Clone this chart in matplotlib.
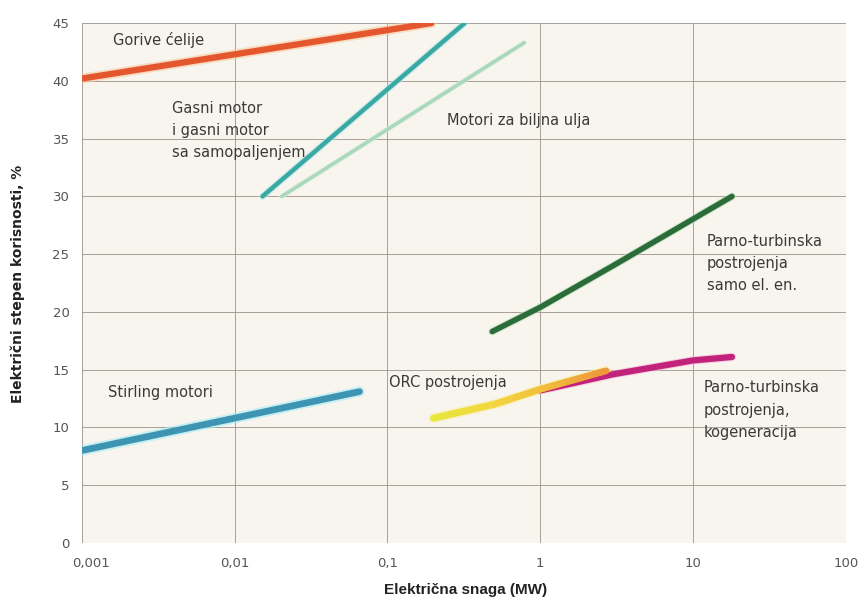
import numpy as np
import matplotlib
matplotlib.use("Agg")
import matplotlib.pyplot as plt
from matplotlib.collections import LineCollection
from matplotlib.colors import LinearSegmentedColormap
from matplotlib.transforms import ScaledTranslation

# ---- data (MW, %) ----
gorive_x = [0.001, 0.194]
gorive_y = [40.2, 45.0]

gasni_x = [0.0152, 0.32]
gasni_y = [30.0, 45.0]

biljna_x = [0.0203, 0.785]
biljna_y = [30.0, 43.3]

parno_el_x = [0.485, 1.0, 3.0, 18.0]
parno_el_y = [18.3, 20.4, 24.0, 30.0]

orc_x = [0.2, 0.5, 1.0, 2.7]
orc_y = [10.8, 12.0, 13.3, 14.9]

kogen_x = [1.0, 3.0, 10.0, 18.0]
kogen_y = [13.2, 14.6, 15.8, 16.1]

stirling_x = [0.001, 0.0656]
stirling_y = [8.0, 13.1]

x_ticks = [0.001, 0.01, 0.1, 1, 10, 100]
x_ticklabels = ["0,001", "0,01", "0,1", "1", "10", "100"]
y_ticks = [0, 5, 10, 15, 20, 25, 30, 35, 40, 45]

plt.rcParams['font.family'] = ['DejaVu Sans']

fig = plt.figure(figsize=(8.63, 6.08), dpi=100)
ax = fig.add_axes([0.095, 0.107, 0.885, 0.855])
ax.set_facecolor('#f8f4ee')
ax.set_xscale('log')
ax.set_xlim(0.001, 100)
ax.set_ylim(0, 45)
ax.set_xticks(x_ticks)
ax.set_xticklabels(x_ticklabels)
ax.set_yticks(y_ticks)
ax.minorticks_off()
ax.tick_params(length=0, labelsize=9.5, colors='#555555')
ax.tick_params(axis='y', pad=9)
ax.tick_params(axis='x', pad=10)
first = ax.get_xticklabels()[0]
first.set_transform(first.get_transform() + ScaledTranslation(0.095, 0, fig.dpi_scale_trans))
ax.grid(True, color='#a8a098', linewidth=0.7)
ax.set_axisbelow(True)
for s in ax.spines.values():
    s.set_visible(False)

def glow_line(x, y, color, lw, glow, glow_lw):
    ax.plot(x, y, color=glow, lw=glow_lw, solid_capstyle='round', alpha=0.6, zorder=2)
    ax.plot(x, y, color=color, lw=lw, solid_capstyle='round', zorder=3)

glow_line(gorive_x, gorive_y, '#e4572e', 4.5, '#f8c9a0', 7)
glow_line(biljna_x, biljna_y, '#a9d8bd', 2.6, '#dff0e6', 4)
glow_line(gasni_x, gasni_y, '#3aa9a3', 3.2, '#b8e8ea', 5)
glow_line(parno_el_x, parno_el_y, '#2c6b3a', 4.0, '#b8e0b8', 5.5)
glow_line(kogen_x, kogen_y, '#c2237a', 4.5, '#f3b8d8', 6)
glow_line(stirling_x, stirling_y, '#3d95b3', 4.8, '#a8eef6', 7.5)

# ORC with yellow->orange gradient (segments subdivided only for smooth colouring)
lx = np.log10(orc_x)
ly = np.array(orc_y)
fine_lx, fine_y = [], []
for i in range(len(lx) - 1):
    t = np.linspace(0, 1, 20, endpoint=False)
    fine_lx.extend(lx[i] + (lx[i + 1] - lx[i]) * t)
    fine_y.extend(ly[i] + (ly[i + 1] - ly[i]) * t)
fine_lx.append(lx[-1]); fine_y.append(ly[-1])
pts = np.column_stack([10 ** np.array(fine_lx), fine_y]).reshape(-1, 1, 2)
segs = np.concatenate([pts[:-1], pts[1:]], axis=1)
cmap = LinearSegmentedColormap.from_list('orc', ['#e6e83a', '#f3d640', '#f2c23c', '#ee9a3a'])
ax.plot(orc_x, orc_y, color='#f8f0a0', lw=7, solid_capstyle='round', alpha=0.6, zorder=2)
lc = LineCollection(segs, cmap=cmap, linewidths=4.8, capstyle='round', zorder=4)
lc.set_array(np.linspace(0, 1, len(segs)))
ax.add_collection(lc)

tc = '#3a3a3a'
fs = 10.5
ls = 1.6
ax.text(0.00159, 43.5, 'Gorive ćelije', fontsize=fs, color=tc, va='center')
ax.text(0.00387, 35.7, 'Gasni motor\ni gasni motor\nsa samopaljenjem', fontsize=fs, color=tc,
        va='center', linespacing=ls)
ax.text(0.2466, 36.6, 'Motori za biljna ulja', fontsize=fs, color=tc, va='center')
ax.text(12.36, 24.2, 'Parno-turbinska\npostrojenja\nsamo el. en.', fontsize=fs, color=tc,
        va='center', linespacing=ls)
ax.text(0.00148, 13.06, 'Stirling motori', fontsize=fs, color=tc, va='center')
ax.text(0.103, 13.9, 'ORC postrojenja', fontsize=fs, color=tc, va='center')
ax.text(11.8, 11.5, 'Parno-turbinska\npostrojenja,\nkogeneracija', fontsize=fs, color=tc,
        va='center', linespacing=ls)

fig.text(0.539, 0.03, 'Električna snaga (MW)', fontsize=11, fontweight='bold',
         family=['Liberation Sans', 'DejaVu Sans'], color='#222222', ha='center', va='center')
fig.text(0.021, 0.533, 'Električni stepen korisnosti, %', fontsize=10, fontweight='bold',
         rotation=90, color='#222222', ha='center', va='center')

fig.savefig('out.png', dpi=100)
